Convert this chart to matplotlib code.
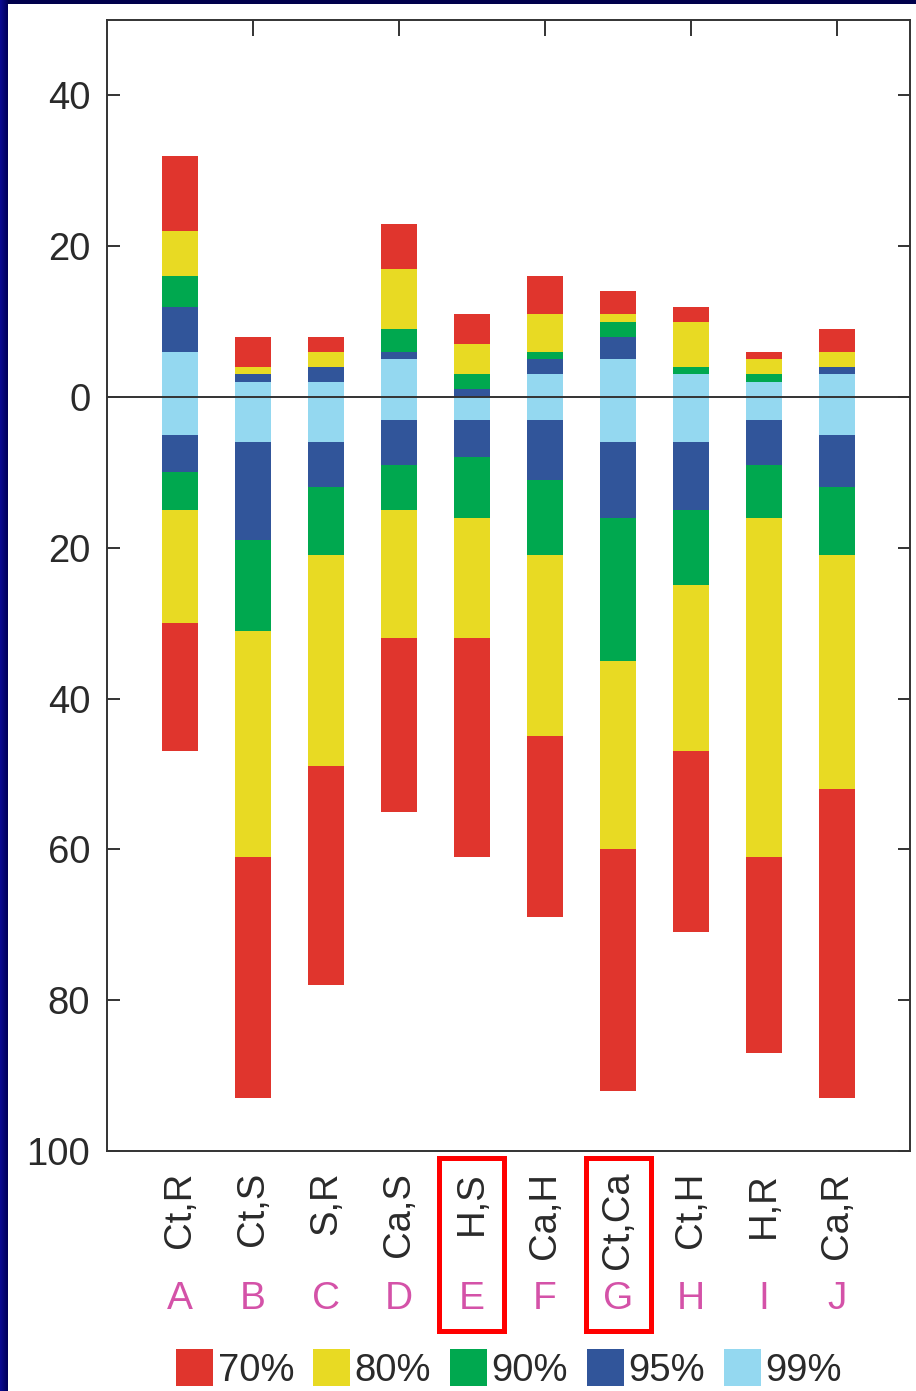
import numpy as np
import matplotlib
matplotlib.use("Agg")
import matplotlib.pyplot as plt
from matplotlib.patches import Rectangle, Patch
from matplotlib.colors import LinearSegmentedColormap
from matplotlib.transforms import blended_transform_factory

plt.rcParams["font.family"] = ["Liberation Sans", "DejaVu Sans"]

# Pair labels and group letters
categories = ["Ct,R", "Ct,S", "S,R", "Ca,S", "H,S", "Ca,H", "Ct,Ca", "Ct,H", "H,R", "Ca,R"]
letters = ["A", "B", "C", "D", "E", "F", "G", "H", "I", "J"]
highlighted = ["E", "G"]

# Confidence levels, innermost first
levels = ["99%", "95%", "90%", "80%", "70%"]
level_colors = {"70%": "#e0352d", "80%": "#e8da23", "90%": "#00a84f",
                "95%": "#31559a", "99%": "#94d8f0"}

# Cumulative extent above zero for each level
up_99 = [6, 2, 2, 5, 0, 3, 5, 3, 2, 3]
up_95 = [12, 3, 4, 6, 1, 5, 8, 3, 2, 4]
up_90 = [16, 3, 4, 9, 3, 6, 10, 4, 3, 4]
up_80 = [22, 4, 6, 17, 7, 11, 11, 10, 5, 6]
up_70 = [32, 8, 8, 23, 11, 16, 14, 12, 6, 9]

# Cumulative extent below zero for each level
down_99 = [5, 6, 6, 3, 3, 3, 6, 6, 3, 5]
down_95 = [10, 19, 12, 9, 8, 11, 16, 15, 9, 12]
down_90 = [15, 31, 21, 15, 16, 21, 35, 25, 16, 21]
down_80 = [30, 61, 49, 32, 32, 45, 60, 47, 61, 52]
down_70 = [47, 93, 78, 55, 61, 69, 92, 71, 87, 93]

up = [up_99, up_95, up_90, up_80, up_70]
down = [down_99, down_95, down_90, down_80, down_70]

W, H = 916, 1391
fig = plt.figure(figsize=(W / 100, H / 100), dpi=100)
fig.patch.set_facecolor("white")

# Slide frame: dark navy strip on top and a blue gradient strip on the left
frame_top = fig.add_axes([0, 1 - 4 / H, 1, 4 / H])
frame_top.axis("off")
frame_top.add_patch(Rectangle((0, 0), 1, 1, transform=frame_top.transAxes,
                              color="#00004c"))
frame_left = fig.add_axes([0, 0, 8 / W, 1])
grad = np.linspace(0, 1, 32)[None, :]
cm = LinearSegmentedColormap.from_list("edge", ["#0b0b94", "#000058"])
frame_left.imshow(grad, aspect="auto", cmap=cm, extent=[0, 1, 0, 1])
frame_left.axis("off")

ax_l, ax_r, ax_t, ax_b = 107, 910, 20, 1151
ax = fig.add_axes([ax_l / W, 1 - ax_b / H, (ax_r - ax_l) / W, (ax_b - ax_t) / H])

x = np.arange(len(categories))
bar_w = 0.48
prev_up = np.zeros(len(x))
prev_dn = np.zeros(len(x))
for lev, u, d in zip(levels, up, down):
    u = np.array(u, dtype=float)
    d = np.array(d, dtype=float)
    ax.bar(x, u - prev_up, bottom=prev_up, width=bar_w,
           color=level_colors[lev], linewidth=0, zorder=2)
    ax.bar(x, -(d - prev_dn), bottom=-prev_dn, width=bar_w,
           color=level_colors[lev], linewidth=0, zorder=2)
    prev_up, prev_dn = u, d

ax.axhline(0, color="#333333", linewidth=1.4, zorder=3)
ax.set_xlim(-1, 10)
ax.set_ylim(-100, 50)

yt = [40, 20, 0, -20, -40, -60, -80, -100]
ax.set_yticks(yt)
ax.set_yticklabels([str(abs(v)) for v in yt])
ax.tick_params(axis="y", direction="in", length=9, width=1.4, color="#333333",
               labelsize=27.5, labelcolor="#2a2a2a", pad=12,
               left=True, right=True)

ax.set_xticks(x)
ax.set_xticklabels(categories, rotation=90, va="top", ha="center")
ax.tick_params(axis="x", length=0, labelsize=27.5, labelcolor="#2a2a2a", pad=15)

for s in ax.spines.values():
    s.set_color("#333333")
    s.set_linewidth(1.4)

top = ax.secondary_xaxis("top")
top.set_xticks([1, 3, 5, 7, 9])
top.tick_params(direction="in", length=11.5, width=1.4, color="#333333",
                labeltop=False)
top.spines["top"].set_visible(False)

def py_to_axes(py):
    return (ax_b - py) / (ax_b - ax_t)

trans = blended_transform_factory(ax.transData, ax.transAxes)
for xi, letter in zip(x, letters):
    ax.text(xi, py_to_axes(1299), letter, transform=trans, ha="center",
            va="center", fontsize=28, color="#d452a8", clip_on=False)
    if letter in highlighted:
        half = 32.5 / ((ax_r - ax_l) / 11)
        y0 = py_to_axes(1331)
        y1 = py_to_axes(1157.5)
        ax.add_patch(Rectangle((xi - half, y0), 2 * half, y1 - y0,
                               transform=trans, fill=False,
                               edgecolor="#ff0000", linewidth=3.6,
                               clip_on=False, zorder=5))

handles = [Patch(facecolor=level_colors[l], edgecolor="none", label=l)
           for l in ["70%", "80%", "90%", "95%", "99%"]]
fig.legend(handles=handles, loc="center", bbox_to_anchor=(509 / W, 1 - 1369 / H),
           ncol=5, frameon=False, fontsize=27.5, handlelength=0.97,
           handleheight=1.1, handletextpad=0.12, columnspacing=0.49,
           borderpad=0, borderaxespad=0, labelcolor="#2a2a2a")

fig.savefig("out.png", dpi=100, facecolor=fig.get_facecolor())
